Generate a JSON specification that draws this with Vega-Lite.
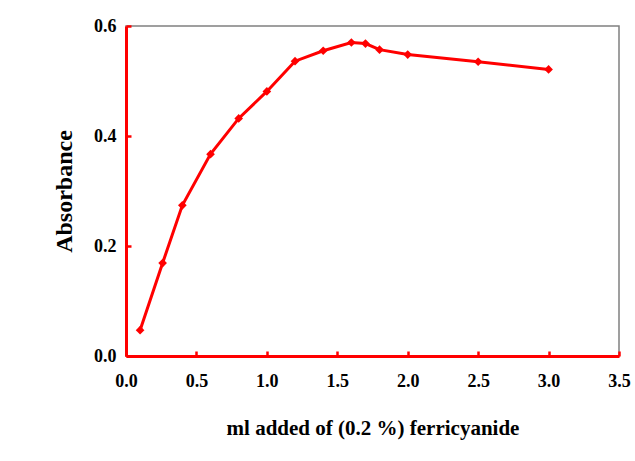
{
  "$schema": "https://vega.github.io/schema/vega-lite/v6.json",
  "width": 493,
  "height": 330,
  "autosize": {"type": "none"},
  "padding": {"left": 126, "top": 26, "right": 16, "bottom": 105},
  "background": "white",
  "config": {
    "view": {"stroke": "#808080", "strokeWidth": 1.5},
    "font": "Liberation Serif"
  },
  "data": {
    "values": [
      {"ml": 0.1, "abs": 0.047},
      {"ml": 0.26, "abs": 0.169},
      {"ml": 0.4, "abs": 0.274},
      {"ml": 0.6, "abs": 0.367},
      {"ml": 0.8, "abs": 0.432},
      {"ml": 1.0, "abs": 0.481},
      {"ml": 1.2, "abs": 0.536},
      {"ml": 1.4, "abs": 0.555},
      {"ml": 1.6, "abs": 0.570},
      {"ml": 1.7, "abs": 0.568},
      {"ml": 1.8, "abs": 0.557},
      {"ml": 2.0, "abs": 0.548},
      {"ml": 2.5, "abs": 0.535},
      {"ml": 3.0, "abs": 0.521}
    ]
  },
  "mark": {"type": "line", "color": "#ff0000", "strokeWidth": 3, "point": {"shape": "diamond", "filled": true, "color": "#ff0000", "size": 75, "opacity": 1}},
  "encoding": {
    "x": {
      "field": "ml", "type": "quantitative",
      "scale": {"domain": [0, 3.5], "nice": false, "zero": false},
      "axis": {
        "values": [0, 0.5, 1, 1.5, 2, 2.5, 3, 3.5], "format": ".1f",
        "title": "ml added of (0.2 %) ferricyanide",
        "grid": false, "labelFlush": false,
        "domainColor": "#ff0000", "domainWidth": 3,
        "tickColor": "#ff0000", "tickWidth": 2.5, "tickSize": -5,
        "labelFont": "Liberation Serif", "labelFontSize": 18, "labelFontWeight": "bold", "labelColor": "black",
        "labelPadding": 21,
        "titleFont": "Liberation Serif", "titleFontSize": 21, "titleFontWeight": "bold", "titleColor": "black",
        "titlePadding": 27
      }
    },
    "y": {
      "field": "abs", "type": "quantitative",
      "scale": {"domain": [0, 0.6], "nice": false},
      "axis": {
        "values": [0, 0.2, 0.4, 0.6], "format": ".1f",
        "title": "Absorbance",
        "grid": false, "labelFlush": false,
        "domainColor": "#ff0000", "domainWidth": 3,
        "tickColor": "#ff0000", "tickWidth": 2.5, "tickSize": -5,
        "labelFont": "Liberation Serif", "labelFontSize": 18, "labelFontWeight": "bold", "labelColor": "black",
        "labelPadding": 15,
        "titleFont": "Liberation Serif", "titleFontSize": 24, "titleFontWeight": "bold", "titleColor": "black",
        "titlePadding": 17
      }
    }
  }
}
